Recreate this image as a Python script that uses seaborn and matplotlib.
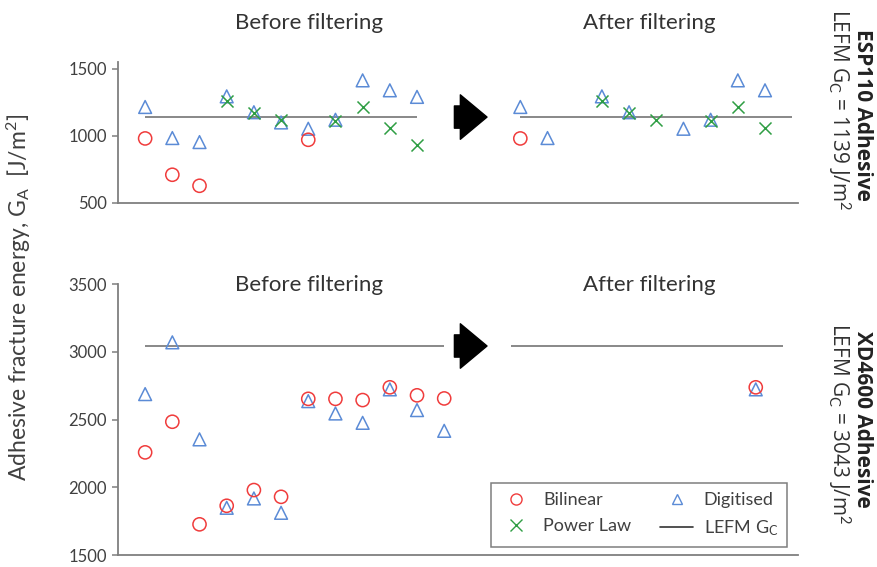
import matplotlib
matplotlib.use("Agg")
import matplotlib.pyplot as plt
import numpy as np
import pandas as pd
import seaborn as sns
from matplotlib.lines import Line2D

sns.set_theme(style="white")
plt.rcParams["font.family"] = ["Lato", "DejaVu Sans"]
plt.rcParams["mathtext.fontset"] = "custom"
plt.rcParams["mathtext.rm"] = "Lato"
plt.rcParams["mathtext.it"] = "Lato"

nan = np.nan

# ESP110 adhesive, one value per test specimen
esp_bilinear = [980, 710, 628, nan, nan, nan, 970, nan, nan, nan, nan]
esp_digitised = [1214, 983, 953, 1293, 1175, 1099, 1052, 1119, 1412, 1338, 1289]
esp_power = [nan, nan, nan, 1256, 1170, 1116, nan, 1107, 1214, 1057, 933]
esp_bilinear_after = [980, nan, nan, nan, nan, nan, nan, nan, nan, nan, nan]
esp_digitised_after = [1214, 983, nan, 1293, 1175, nan, 1052, 1119, 1412, 1338, nan]
esp_power_after = [nan, nan, nan, 1256, 1170, 1116, nan, 1107, 1214, 1057, nan]
esp_gc = 1139

# XD4600 adhesive
xd_bilinear = [2258, 2484, 1727, 1864, 1980, 1930, 2653, 2653, 2644, 2738, 2679, 2656]
xd_digitised = [2688, 3070, 2354, 1849, 1918, 1812, 2636, 2545, 2476, 2723, 2570, 2417]
xd_bilinear_after = [nan] * 9 + [2738]
xd_digitised_after = [nan] * 9 + [2723]
xd_gc = 3043

RED = "#F03C3C"
BLUE = "#5B8BD6"
GREEN = "#2F9E44"
GREY = "#7F7F7F"
TEXT = "#404040"


def long_form(series, offset):
    rows = []
    for method, values in series.items():
        for i, v in enumerate(values):
            if not np.isnan(v):
                rows.append({"Method": method, "x": i + offset, "G": v})
    return pd.DataFrame(rows)


STYLE = {
    "Bilinear": dict(marker="o", facecolor="none", edgecolor=RED, s=90, linewidth=1.1),
    "Digitised": dict(marker="^", facecolor="none", edgecolor=BLUE, s=85, linewidth=1.1),
    "Power Law": dict(marker="x", color=GREEN, s=75, linewidth=1.1),
}


def draw_row(ax, before, after, gc, n_before, offset, ylim, yticks):
    df = pd.concat([long_form(before, 0), long_form(after, offset)], ignore_index=True)
    ax.hlines(gc, 0, n_before - 1, color=GREY, linewidth=1.3, zorder=1)
    ax.hlines(gc, offset, offset + 10, color=GREY, linewidth=1.3, zorder=1)
    for method in ["Digitised", "Power Law", "Bilinear"]:
        sub = df[df["Method"] == method]
        if not sub.empty:
            sns.scatterplot(data=sub, x="x", y="G", ax=ax, legend=False, zorder=3, **STYLE[method])
    ax.set_xlim(-1.0, 24.0)
    ax.set_ylim(*ylim)
    ax.set_yticks(yticks)
    ax.set_xticks([])
    ax.set_xlabel("")
    ax.set_ylabel("")
    for side in ["top", "right"]:
        ax.spines[side].set_visible(False)
    for side in ["left", "bottom"]:
        ax.spines[side].set_color(GREY)
        ax.spines[side].set_linewidth(1.3)
    ax.tick_params(axis="y", left=True, length=4, width=1.1, color=GREY,
                   labelsize=12, labelcolor=TEXT, pad=4)
    ax.annotate("", xy=(0.543, gc), xytext=(0.495, gc),
                xycoords=("axes fraction", "data"), textcoords=("axes fraction", "data"),
                arrowprops=dict(arrowstyle="simple,head_length=0.6,head_width=1.0,tail_width=0.5",
                                color="black", mutation_scale=32, shrinkA=0, shrinkB=0))


fig = plt.figure(figsize=(8.77, 5.67), dpi=100)
ax_top = fig.add_axes([0.1345, 0.642, 0.775, 0.249])
ax_bot = fig.add_axes([0.1345, 0.021, 0.775, 0.478])

draw_row(ax_top,
         {"Bilinear": esp_bilinear, "Digitised": esp_digitised, "Power Law": esp_power},
         {"Bilinear": esp_bilinear_after, "Digitised": esp_digitised_after, "Power Law": esp_power_after},
         esp_gc, 11, 13.8, (500, 1550), [500, 1000, 1500])
draw_row(ax_bot,
         {"Bilinear": xd_bilinear, "Digitised": xd_digitised},
         {"Bilinear": xd_bilinear_after, "Digitised": xd_digitised_after},
         xd_gc, 12, 13.46, (1500, 3500), [1500, 2000, 2500, 3000, 3500])

title_kw = dict(ha="center", va="center", fontsize=16, color="#333333")
ax_top.text(0.2815, 1.277, "Before filtering", transform=ax_top.transAxes, **title_kw)
ax_top.text(0.7815, 1.277, "After filtering", transform=ax_top.transAxes, **title_kw)
ax_bot.text(0.2815, 0.996, "Before filtering", transform=ax_bot.transAxes, **title_kw)
ax_bot.text(0.7815, 0.996, "After filtering", transform=ax_bot.transAxes, **title_kw)

fig.text(0.022, 0.475, r"Adhesive fracture energy, G$_\mathrm{A}$  [J/m$^2$]",
         rotation=90, ha="center", va="center", fontsize=16.5, color=TEXT)

side_bold = dict(rotation=270, ha="center", va="center", fontsize=15, fontweight="bold",
                 color="#222222", family=["Open Sans", "DejaVu Sans"])
side_light = dict(rotation=270, ha="center", va="center", fontsize=15, color="#333333",
                  family=["Open Sans", "DejaVu Sans"])
fig.text(0.984, 1 - 115 / 567, "ESP110 Adhesive", **side_bold)
fig.text(0.956, 1 - 110 / 567, r"LEFM G$_\mathrm{C}$ = 1139 J/m$^2$", **side_light)
fig.text(0.984, 1 - 419 / 567, "XD4600 Adhesive", **side_bold)
fig.text(0.956, 1 - 424 / 567, r"LEFM G$_\mathrm{C}$ = 3043 J/m$^2$", **side_light)

handles = [
    Line2D([], [], linestyle="", marker="o", markerfacecolor="none", markeredgecolor=RED, markersize=8),
    Line2D([], [], linestyle="", marker="x", color=GREEN, markersize=8),
    Line2D([], [], linestyle="", marker="^", markerfacecolor="none", markeredgecolor=BLUE, markersize=7),
    Line2D([], [], color="#333333", linewidth=1.2),
]
labels = ["Bilinear", "Power Law", "Digitised", r"LEFM G$_\mathrm{C}$"]
leg = ax_bot.legend(handles, labels, ncol=2, loc="lower right", bbox_to_anchor=(0.985, 0.03),
                    borderaxespad=0, frameon=True, fancybox=False, edgecolor=GREY, framealpha=1,
                    fontsize=13, columnspacing=1.6, handlelength=1.8, handletextpad=0.6,
                    borderpad=0.5, labelspacing=0.55)
leg.get_frame().set_linewidth(1.1)
for t in leg.get_texts():
    t.set_color(TEXT)

fig.savefig("out.png", dpi=100)
